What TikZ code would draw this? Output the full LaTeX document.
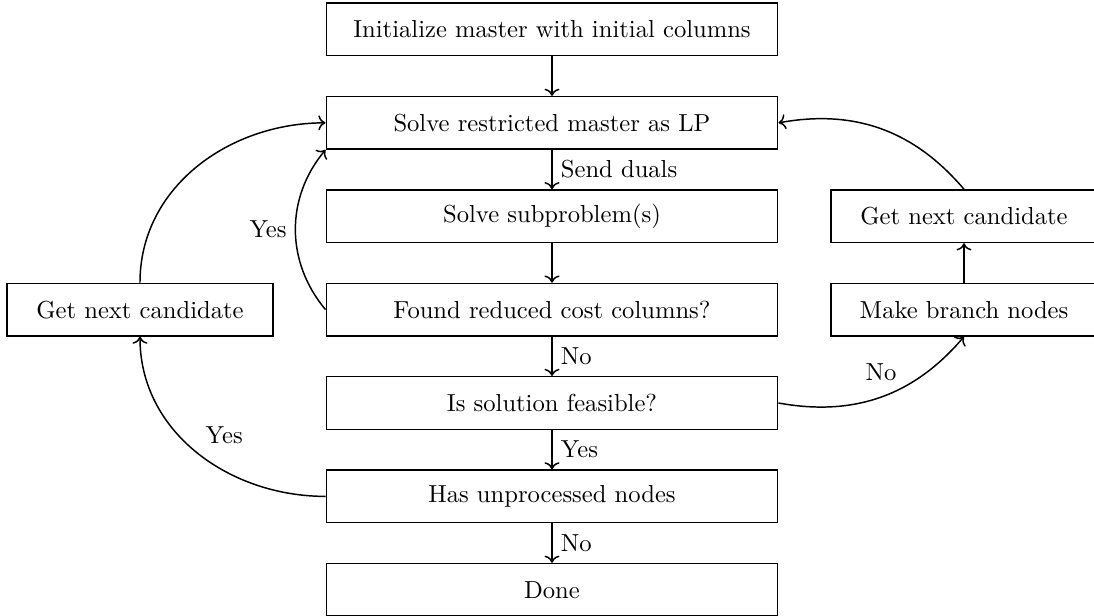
\documentclass[tikz,border=0pt]{standalone}
\usepackage{amsmath,amssymb}
\usepackage{tikz}
\usetikzlibrary{arrows.meta, positioning}

\begin{document}
\begin{tikzpicture}[
    node distance=0.563cm and 0.74cm,
    block/.style={rectangle, draw, semithick, minimum width=6.45cm, minimum height=0.75cm, align=center},
    sideblock/.style={rectangle, draw, semithick, minimum width=3.8cm, minimum height=0.75cm, align=center},
    line/.style={draw, semithick, ->}
]
    \useasboundingbox (-7.886,0.421) rectangle (7.743,-8.379);

    % Nodes
    \node [block] (init) {Initialize master with initial columns};
    \node [block, below=of init] (master) {Solve restricted master as LP};
    \node [block, below=of master] (sub) {Solve subproblem(s)};
    \node [block, below=of sub] (found) {Found reduced cost columns?};
    \node [block, below=of found] (feasible) {Is solution feasible?};
    \node [block, below=of feasible] (unproc) {Has unprocessed nodes};
    \node [block, below=of unproc] (done) {Done};
    \node [sideblock, left=of found] (nextL) {Get next candidate};
    \node [sideblock, right=of found] (branch) {Make branch nodes};
    \node [sideblock, above=of branch] (nextR) {Get next candidate};

    % Paths
    \path [line] (init) -- (master);
    \path [line] (master) -- (sub) node[midway, right] {Send duals};
    \path [line] (sub) -- (found);
    \path [line] (found.west) to[bend left=40] node[midway, left] {Yes} (master.south west);
    \path [line] (found) -- (feasible) node[midway, right] {No};
    \path [line] (feasible.east) to[bend right=30] node[midway, above, yshift=3pt] {No} (branch.south);
    \path [line] (branch) -- (nextR);
    \path [line] (nextR.north) to[bend right=30] (master.east);
    \path [line] (feasible) -- (unproc) node[midway, right] {Yes};
    \path [line] (unproc.west) to[out=180, in=-90] node[midway, above right] {Yes} (nextL.south);
    \path [line] (nextL.north) to[out=90, in=180] (master.west);
    \path [line] (unproc) -- (done) node[midway, right] {No};
\end{tikzpicture}
\end{document}
